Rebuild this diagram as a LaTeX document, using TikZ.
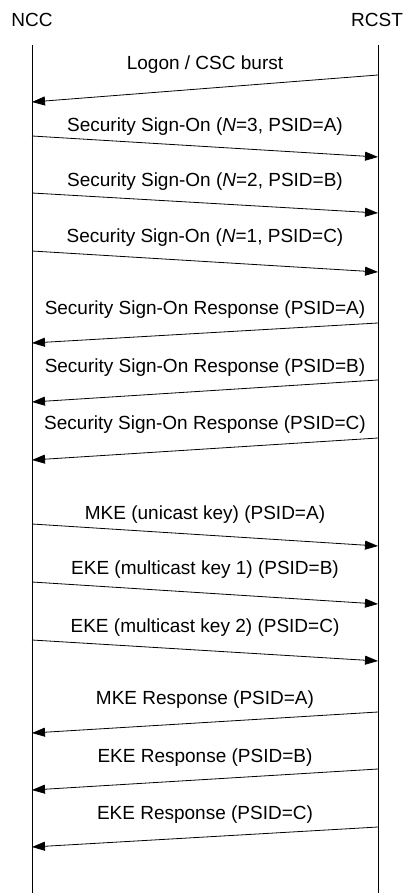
\documentclass[tikz,border=0pt]{standalone}
\usepackage{fontspec}
\setmainfont{Liberation Sans}
\usetikzlibrary{arrows.meta}
\tikzset{msg/.style={-{Triangle[length=13pt,width=9pt]},line width=0.8pt},
    lbl/.style={anchor=base,inner sep=0pt}}
\begin{document}
\begin{tikzpicture}[x=1pt,y=-1pt,font=\fontsize{19}{22}\selectfont]
        \useasboundingbox (0,0) rectangle (403,893);

        \node[lbl](ncc)at(32,27){NCC};
        \node[lbl](rcst)at(377,27){RCST};
        \coordinate(ncctop)at(32,45); \coordinate(nccbot)at(32,893);
        \coordinate(rcsttop)at(378,45); \coordinate(rcstbot)at(378,893);
        \draw[line width=0.8pt](ncctop)--(nccbot);
        \draw[line width=0.8pt](rcsttop)--(rcstbot);

        % NCC -> RCST
        \foreach \ya/\yb/\yt/\txt [count=\i] in {136/157/132/{Security Sign-On (\textit{N}=3, PSID=A)},
            193/213/187/{Security Sign-On (\textit{N}=2, PSID=B)},
            251/272/243/{Security Sign-On (\textit{N}=1, PSID=C)},
            524/546/519/{MKE (unicast key) (PSID=A)},
            582/604/574/{EKE (multicast key 1) (PSID=B)},
            640/661/632/{EKE (multicast key 2) (PSID=C)}}{
            \coordinate(fa\i)at(32,\ya);
            \coordinate(fb\i)at(378,\yb);
            \node[lbl](ft\i)at(205,\yt){\txt};
            \draw[msg](fa\i)--(fb\i);
        }

        % RCST -> NCC
        \foreach \ya/\yb/\yt/\txt [count=\i] in {75/102/70/{Logon / CSC burst},
            323/343/314/{Security Sign-On Response (PSID=A)},
            380/402/372/{Security Sign-On Response (PSID=B)},
            438/460/429/{Security Sign-On Response (PSID=C)},
            712/733/704/{MKE Response (PSID=A)},
            769/790/762/{EKE Response (PSID=B)},
            827/847/819/{EKE Response (PSID=C)}}{
            \coordinate(ra\i)at(378,\ya);
            \coordinate(rb\i)at(32,\yb);
            \node[lbl](rt\i)at(205,\yt){\txt};
            \draw[msg](ra\i)--(rb\i);
        }
    \end{tikzpicture}
\end{document}
